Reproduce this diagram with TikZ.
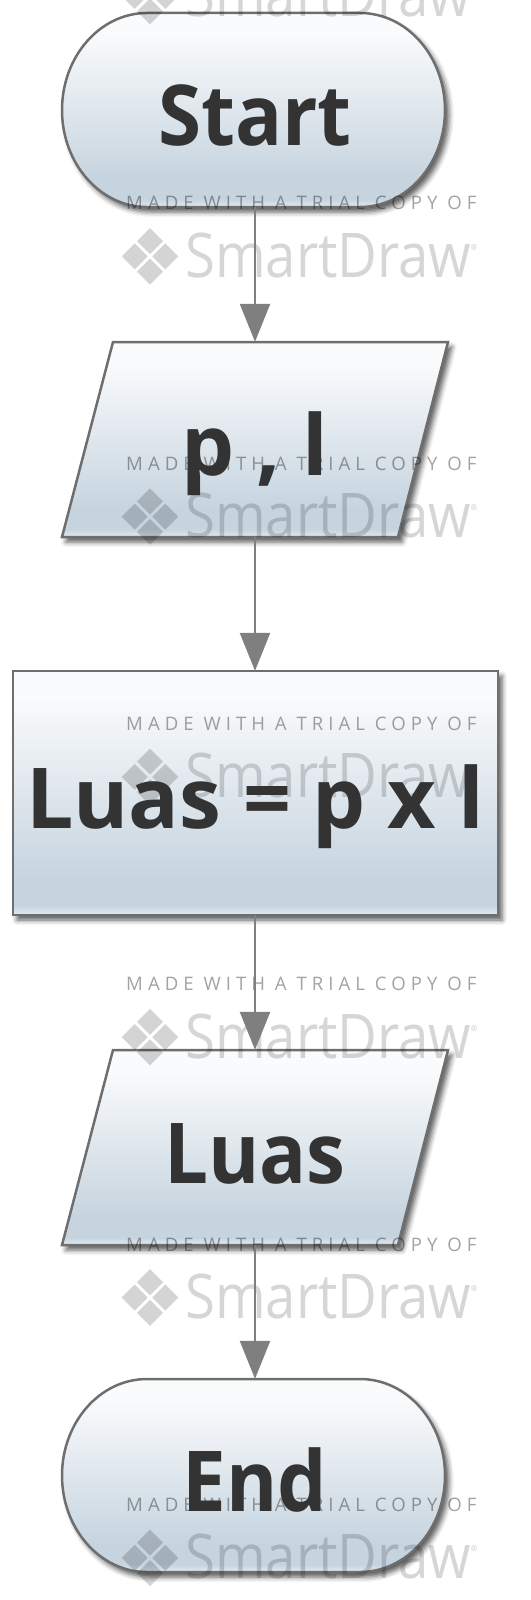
\documentclass[tikz,border=0pt]{standalone}
\usepackage{fontspec}
\setmainfont{Open Sans}
\usetikzlibrary{arrows.meta,shadows.blur}
\definecolor{sdline}{HTML}{6E6E6E}
\definecolor{sdarrow}{HTML}{7F7F7F}
\definecolor{sdtext}{HTML}{333333}
\definecolor{sdtop}{HTML}{FAFBFC}
\definecolor{sdlow}{HTML}{C6D4DF}
\definecolor{sdedge}{HTML}{E2EAF0}
\pgfdeclareverticalshading{sdshade}{100bp}{color(0bp)=(sdedge); color(25bp)=(sdedge); color(27bp)=(sdlow); color(32bp)=(sdlow); color(70bp)=(sdtop); color(100bp)=(sdtop)}
\pgfdeclarelayer{bg}
\pgfdeclarelayer{wm}
\pgfsetlayers{bg,wm,main}
\newcommand{\sdnarrow}[1]{\scalebox{0.93}[1]{#1}}
\tikzset{
  sdnode/.style={draw=none, inner sep=0pt, text=sdtext,
    font=\fontsize{84}{84}\selectfont\bfseries, text height=71pt, text depth=0pt},
  sdshape/.style={draw=sdline, line width=2.5pt, shade, shading=sdshade,
    blur shadow={shadow xshift=4pt, shadow yshift=-5pt, shadow blur radius=5pt, shadow opacity=65}},
  sdflow/.style={draw=sdarrow, line width=2.5pt, -{Triangle[width=30pt,length=38pt]}},
  wmsmall/.style={inner sep=0pt, text=black, text opacity=0.36,
    font=\fontsize{18.6}{20}\selectfont\addfontfeature{LetterSpace=27}},
  wmbig/.style={inner sep=0pt, text=black, text opacity=0.16,
    font=\fontsize{61.6}{62}\selectfont},
  wmreg/.style={inner sep=0pt, text=black, text opacity=0.2,
    font=\fontsize{8}{8}\selectfont},
  wmlogo/.style={fill=black, fill opacity=0.17}
}
\begin{document}
\begin{tikzpicture}[x=1pt,y=-1pt]
\useasboundingbox (0,0) rectangle (530,1600);
% nodes (text)
\node[sdnode, minimum width=383pt, minimum height=194pt] (start) at (255,110) {\sdnarrow{Start}};
\node[sdnode, minimum width=386pt, minimum height=195pt] (in1) at (255,439.5) {p , l};
\node[sdnode, minimum width=485pt, minimum height=244pt] (calc) at (255,793) {Luas = p x l};
\node[sdnode, minimum width=386pt, minimum height=195pt] (out1) at (255,1147.5) {\sdnarrow{Luas}};
\node[sdnode, minimum width=383pt, minimum height=193pt] (stop) at (255,1475.5) {\sdnarrow{End}};
% shapes
\begin{pgfonlayer}{bg}
\path[sdshape] (147,13) -- (360,13) arc[start angle=-90,end angle=90,x radius=85,y radius=97]
  -- (147,207) arc[start angle=90,end angle=270,x radius=85,y radius=97] -- cycle;
\path[sdshape] (113,342) -- (448,342) -- (398,537) -- (62,537) -- cycle;
\path[sdshape] (13,671) rectangle (498,915);
\path[sdshape] (113,1050) -- (448,1050) -- (398,1245) -- (62,1245) -- cycle;
\path[sdshape] (147,1379) -- (360,1379) arc[start angle=-90,end angle=90,x radius=85,y radius=96.5]
  -- (147,1572) arc[start angle=90,end angle=270,x radius=85,y radius=96.5] -- cycle;
\end{pgfonlayer}
% watermark
\begin{pgfonlayer}{wm}
\foreach \k in {0,...,6}{
  \pgfmathsetmacro\my{-57+260.3*\k}
  \node[wmsmall, anchor=base west] (wmA\k) at (126,\my+6.6) {MADE WITH A TRIAL COPY OF};
  \node[wmbig, anchor=base west] (wmB\k) at (185,\my+74) {\scalebox{0.885}[1]{SmartDraw}};
  \node[wmreg] (wmC\k) at (474,\my+44) {®};
  \begin{scope}[shift={(150,\my+53)}, rotate=45]
    \fill[wmlogo] (1.6,1.6) rectangle (20,20);
    \fill[wmlogo] (-1.6,1.6) rectangle (-20,20);
    \fill[wmlogo] (1.6,-1.6) rectangle (20,-20);
    \fill[wmlogo] (-1.6,-1.6) rectangle (-20,-20);
  \end{scope}
}
\end{pgfonlayer}
% connectors
\draw[sdflow] (start.south) -- (in1.north);
\draw[sdflow] (in1.south) -- (calc.north);
\draw[sdflow] (calc.south) -- (out1.north);
\draw[sdflow] (out1.south) -- (stop.north);
\end{tikzpicture}
\end{document}
